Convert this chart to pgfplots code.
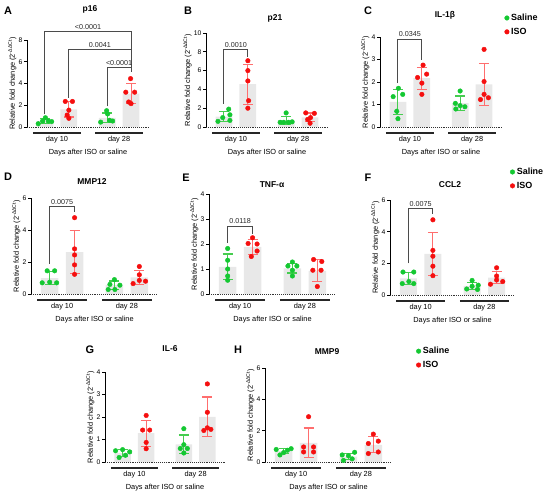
\documentclass[border=0pt]{standalone}
\usepackage{fontspec}
\setmainfont{Liberation Sans}
\usepackage{pgfplots}
\pgfplotsset{compat=1.18}
\definecolor{gpt}{RGB}{20,200,50}
\definecolor{gerr}{RGB}{70,205,80}
\definecolor{rpt}{RGB}{245,15,15}
\definecolor{rerr}{RGB}{255,110,110}
\definecolor{barg}{RGB}{232,232,232}
\definecolor{brkc}{RGB}{75,75,75}
\pgfplotsset{
 gp/.style={scale only axis, clip=false, axis x line=none, axis y line*=left,
  xmin=-0.75, xmax=4.35, ymin=0,
  tick align=outside, major tick length=3bp,
  every tick/.style={black, line width=0.7bp},
  y axis line style={line width=0.8bp},
  yticklabel style={font=\fontsize{6.8}{7}\selectfont, inner sep=1.5bp},
  /pgf/number format/assume math mode=true,
  ylabel={Relative fold change (2\textsuperscript{-ΔΔCt})},
  ylabel style={font=\fontsize{7.4}{8}\selectfont, yshift=-3bp},
  legend image code/.code={\draw[#1] plot coordinates {(0bp,0bp)};},
  legend cell align=left,
 },
 bars/.style={ybar, bar width=0.7, bar shift=0pt, fill=barg, draw=none, forget plot},
 errg/.style={draw=none, mark=none, forget plot, error bars/.cd, y dir=both, y explicit,
   error bar style={draw=gerr, line width=1.1bp}, error mark options={rotate=90, mark size=5bp, line width=1.1bp, draw=gerr}},
 errr/.style={draw=none, mark=none, forget plot, error bars/.cd, y dir=both, y explicit,
   error bar style={draw=rerr, line width=1.1bp}, error mark options={rotate=90, mark size=5bp, line width=1.1bp, draw=rerr}},
 ptsg/.style={only marks, mark=*, mark size=2.3bp, color=gpt, mark options={draw=gpt, fill=gpt}},
 ptsr/.style={only marks, mark=*, mark size=2.3bp, color=rpt, mark options={draw=rpt, fill=rpt}},
}
\newcommand{\gpdecor}{%
 \draw[densely dotted, line width=0.9bp, black!80] (axis cs:-0.75,0) -- (axis cs:4.35,0);
 \draw[line width=1.3bp, black!85] ([yshift=-6bp]axis cs:-0.5,0) -- ([yshift=-6bp]axis cs:1.5,0);
 \draw[line width=1.3bp, black!85] ([yshift=-6bp]axis cs:2.1,0) -- ([yshift=-6bp]axis cs:4.1,0);
 \node[font=\fontsize{7.4}{8}\selectfont] at ([yshift=-13bp]axis cs:0.5,0) {day 10};
 \node[font=\fontsize{7.4}{8}\selectfont] at ([yshift=-13bp]axis cs:3.1,0) {day 28};
 \node[font=\fontsize{7.4}{8}\selectfont] at ([yshift=-26bp]axis cs:1.8,0) {Days after ISO or saline};
}
% x1, x2, xmid, ytop, yleft, yright, label
\newcommand{\brk}[7]{%
 \draw[brkc, line width=0.9bp] (axis cs:#1,#5) -- (axis cs:#1,#4) -- (axis cs:#2,#4) -- (axis cs:#2,#6);
 \node[font=\fontsize{7.2}{8}\selectfont, anchor=south, inner sep=2bp, text=black!85] at (axis cs:#3,#4) {#7};
}
\begin{document}
\begin{tikzpicture}
\path[use as bounding box] (0bp,0bp) rectangle (550bp,-491bp);
% ---------------- A p16
\begin{axis}[gp, at={(27bp,-127bp)}, anchor=south west, width=122bp, height=87bp, ymax=8, ytick={0,2,4,6,8}]
\addplot[bars] coordinates {(0,0.55) (1,1.63) (2.6,0.84) (3.6,3.06)};
\gpdecor
\addplot[errg] coordinates {(0,0.55) +- (0,0.2) (2.6,0.84) +- (0,0.45)};
\addplot[errr] coordinates {(1,1.63) +- (0,0.71) (3.6,3.06) +- (0,0.92)};
\addplot[ptsg, forget plot] coordinates {(-0.28,0.3) (-0.1,0.55) (0.02,0.85) (0.14,0.55) (0.28,0.5) (2.33,0.45) (2.58,1.5) (2.62,1.2) (2.7,0.62) (2.83,0.55)};
\addplot[ptsr, forget plot] coordinates {(0.85,2.35) (1.15,2.35) (1.0,1.55) (0.93,1.1) (1.0,0.8) (3.58,4.45) (3.38,3.2) (3.75,3.2) (3.5,2.3) (3.6,2.15)};
\brk{0}{3.6}{1.8}{8.75}{1.15}{5.1}{<0.0001}
\brk{1}{3.6}{2.3}{7.1}{2.7}{5.1}{0.0041}
\brk{2.6}{3.6}{3.1}{5.45}{1.9}{5.1}{<0.0001}
\end{axis}
% ---------------- B p21
\begin{axis}[gp, at={(206bp,-127bp)}, anchor=south west, width=122bp, height=94bp, ymax=10, ytick={0,2,4,6,8,10}]
\addplot[bars] coordinates {(0,1.1) (1,4.55) (2.6,0.71) (3.6,1.03)};
\gpdecor
\addplot[errg] coordinates {(0,1.1) +- (0,0.52) (2.6,0.71) +- (0,0.44)};
\addplot[errr] coordinates {(1,4.55) +- (0,2.12) (3.6,1.03) +- (0,0.46)};
\addplot[ptsg, forget plot] coordinates {(-0.25,0.6) (-0.05,1.0) (0.2,1.9) (0.25,1.3) (0.25,0.7) (2.35,0.5) (2.5,0.5) (2.6,1.5) (2.7,0.5) (2.85,0.55)};
\addplot[ptsr, forget plot] coordinates {(1,7.05) (1,6.0) (1,4.9) (1.03,2.8) (1,2.0) (3.42,1.5) (3.78,1.45) (3.62,1.0) (3.5,0.8) (3.6,0.4)};
\brk{0}{1}{0.5}{8.2}{2.5}{7.5}{0.0010}
\end{axis}
% ---------------- C IL-1b
\begin{axis}[gp, at={(380bp,-127bp)}, anchor=south west, width=122bp, height=90bp, ymax=4, ytick={0,1,2,3,4},
  legend style={draw=none, fill=none, font=\bfseries\fontsize{9}{10}\selectfont, at={(1.02,1.28)}, anchor=north west, row sep=2bp, inner sep=0bp}]
\addplot[bars] coordinates {(0,1.12) (1,2.17) (2.6,1.06) (3.6,1.89)};
\gpdecor
\addplot[errg] coordinates {(0,1.12) +- (0,0.56) (2.6,1.06) +- (0,0.32)};
\addplot[errr] coordinates {(1,2.17) +- (0,0.49) (3.6,1.89) +- (0,0.93)};
\addplot[ptsg] coordinates {(0.02,1.72) (-0.2,1.35) (0.2,1.45) (-0.05,0.7) (0,0.37) (2.6,1.6) (2.4,1.05) (2.6,0.95) (2.8,0.9) (2.42,0.8)};
\addlegendentry{Saline}
\addplot[ptsr] coordinates {(1.05,2.75) (1.2,2.35) (0.82,2.2) (1.0,1.95) (1.0,1.45) (3.6,3.45) (3.6,2.02) (3.6,1.45) (3.45,1.22) (3.78,1.3)};
\addlegendentry{ISO}
\brk{0}{1}{0.5}{3.9}{1.95}{3.0}{0.0345}
\end{axis}
% ---------------- D MMP12
\begin{axis}[gp, at={(31bp,-294bp)}, anchor=south west, width=127bp, height=96bp, ymax=6, ytick={0,2,4,6}]
\addplot[bars] coordinates {(0,1.0) (1,2.62) (2.6,0.55) (3.6,1.04)};
\gpdecor
\addplot[errg] coordinates {(0,1.0) +- (0,0.4) (2.6,0.55) +- (0,0.26)};
\addplot[errr] coordinates {(1,2.62) +- (0,1.35) (3.6,1.04) +- (0,0.42)};
\addplot[ptsg, forget plot] coordinates {(-0.1,1.45) (0.2,1.45) (-0.3,0.7) (0,0.74) (0.28,0.7) (2.6,0.9) (2.42,0.6) (2.82,0.55) (2.35,0.28) (2.62,0.28)};
\addplot[ptsr, forget plot] coordinates {(1,4.77) (1,2.82) (1,2.44) (1,1.82) (1,1.23) (3.6,1.72) (3.6,1.2) (3.6,0.85) (3.35,0.65) (3.85,0.8)};
\brk{0}{1}{0.5}{5.47}{1.9}{5.15}{0.0075}
\end{axis}
% ---------------- E TNF-a
\begin{axis}[gp, at={(209bp,-294bp)}, anchor=south west, width=127bp, height=100bp, ymax=4, ytick={0,1,2,3,4}]
\addplot[bars] coordinates {(0,1.09) (1,1.89) (2.6,1.03) (3.6,0.93)};
\gpdecor
\addplot[errg] coordinates {(0,1.09) +- (0,0.51) (2.6,1.03) +- (0,0.19)};
\addplot[errr] coordinates {(1,1.89) +- (0,0.3) (3.6,0.93) +- (0,0.44)};
\addplot[ptsg, forget plot] coordinates {(0,1.82) (0,1.35) (0,1.0) (0,0.72) (0,0.55) (2.6,1.28) (2.42,1.12) (2.78,1.12) (2.6,0.95) (2.6,0.72)};
\addplot[ptsr, forget plot] coordinates {(1.0,2.25) (0.82,2.02) (1.18,2.0) (1.18,1.72) (0.95,1.5) (3.45,1.38) (3.78,1.3) (3.75,0.95) (3.42,0.95) (3.6,0.3)};
\brk{0}{1}{0.5}{2.72}{2.05}{2.42}{0.0118}
\end{axis}
% ---------------- F CCL2
\begin{axis}[gp, at={(390bp,-295bp)}, anchor=south west, width=125bp, height=95bp, ymax=6, ytick={0,2,4,6},
  legend style={draw=none, fill=none, font=\bfseries\fontsize{9}{10}\selectfont, at={(0.96,1.36)}, anchor=north west, row sep=2bp, inner sep=0bp}]
\addplot[bars] coordinates {(0,1.05) (1,2.6) (2.6,0.57) (3.6,1.1)};
\gpdecor
\addplot[errg] coordinates {(0,1.05) +- (0,0.36) (2.6,0.57) +- (0,0.23)};
\addplot[errr] coordinates {(1,2.6) +- (0,1.36) (3.6,1.1) +- (0,0.39)};
\addplot[ptsg] coordinates {(-0.22,1.45) (0.22,1.45) (0.02,0.85) (-0.25,0.72) (0.22,0.72) (2.6,0.92) (2.85,0.62) (2.6,0.55) (2.38,0.38) (2.82,0.35)};
\addlegendentry{Saline}
\addplot[ptsr] coordinates {(1,4.75) (1,2.82) (1,2.45) (1,1.82) (1,1.22) (3.6,1.72) (3.6,1.2) (3.6,0.95) (3.35,0.68) (3.85,0.85)};
\addlegendentry{ISO}
\brk{0}{1}{0.5}{5.47}{2.0}{5.1}{0.0075}
\end{axis}
% ---------------- G IL-6
\begin{axis}[gp, at={(105bp,-462bp)}, anchor=south west, width=120bp, height=90bp, ymax=4, ytick={0,1,2,3,4}]
\addplot[bars] coordinates {(0,0.4) (1,1.28) (2.6,0.78) (3.6,2.01)};
\gpdecor
\addplot[errg] coordinates {(0,0.4) +- (0,0.15) (2.6,0.78) +- (0,0.42)};
\addplot[errr] coordinates {(1,1.28) +- (0,0.58) (3.6,2.01) +- (0,0.88)};
\addplot[ptsg, forget plot] coordinates {(-0.3,0.5) (0.0,0.55) (0.3,0.45) (-0.15,0.2) (0.12,0.3) (2.6,1.48) (2.6,0.77) (2.45,0.6) (2.75,0.6) (2.6,0.4)};
\addplot[ptsr, forget plot] coordinates {(1,2.07) (0.85,1.42) (1.15,1.42) (1,0.87) (1,0.59) (3.6,3.47) (3.6,2.21) (3.45,1.4) (3.75,1.45) (3.6,1.52)};
\end{axis}
% ---------------- H MMP9
\begin{axis}[gp, at={(265bp,-462bp)}, anchor=south west, width=127bp, height=94bp, ymax=6, ytick={0,2,4,6},
  legend style={draw=none, fill=none, font=\bfseries\fontsize{9}{10}\selectfont, at={(1.19,1.245)}, anchor=north west, row sep=2bp, inner sep=0bp}]
\addplot[bars] coordinates {(0,0.69) (1,1.22) (2.6,0.35) (3.6,1.09)};
\gpdecor
\addplot[errg] coordinates {(0,0.69) +- (0,0.16) (2.6,0.35) +- (0,0.21)};
\addplot[errr] coordinates {(1,1.22) +- (0,0.95) (3.6,1.09) +- (0,0.51)};
\addplot[ptsg] coordinates {(-0.3,0.8) (0.3,0.85) (0.0,0.6) (-0.15,0.45) (0.15,0.75) (2.35,0.45) (2.85,0.62) (2.6,0.4) (2.4,0.1) (2.75,0.2)};
\addlegendentry{Saline}
\addplot[ptsr] coordinates {(1,2.89) (0.8,0.96) (1.2,0.96) (0.8,0.64) (1.2,0.64) (3.6,1.78) (3.8,1.33) (3.4,1.18) (3.4,0.54) (3.8,0.64)};
\addlegendentry{ISO}
\end{axis}
% ---------------- titles and panel letters
\begin{scope}[every node/.style={font=\bfseries\fontsize{11}{12}\selectfont}]
\node at (8bp,-11bp) {A}; \node at (188bp,-11bp) {B}; \node at (368bp,-11bp) {C};
\node at (8bp,-177bp) {D}; \node at (186bp,-178bp) {E}; \node at (368bp,-178bp) {F};
\node at (90bp,-350bp) {G}; \node at (238bp,-350bp) {H};
\end{scope}
\begin{scope}[every node/.style={font=\bfseries\fontsize{8.5}{10}\selectfont}]
\node at (90bp,-9bp) {p16}; \node at (275bp,-18bp) {p21}; \node at (445bp,-15bp) {IL-1β};
\node at (92bp,-182bp) {MMP12}; \node at (272bp,-185bp) {TNF-α}; \node at (450bp,-185bp) {CCL2};
\node at (170bp,-349bp) {IL-6}; \node at (327bp,-352bp) {MMP9};
\end{scope}
\end{tikzpicture}
\end{document}
